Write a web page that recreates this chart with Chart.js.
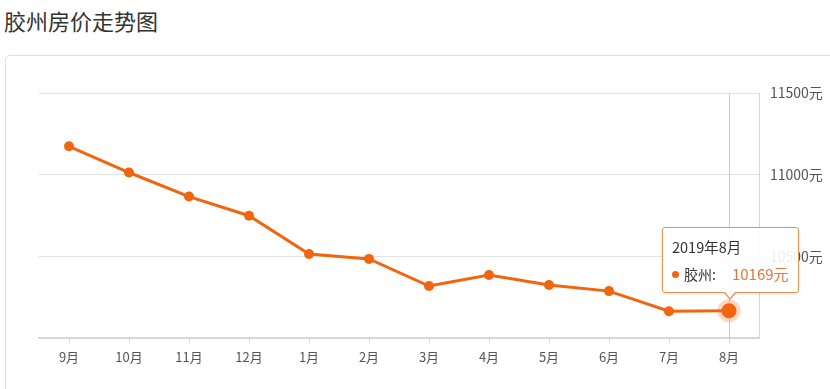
<!DOCTYPE html>
<html>
<head>
<meta charset="utf-8">
<script src="https://cdn.jsdelivr.net/npm/chart.js@4.4.1/dist/chart.umd.min.js"></script>
<style>
  html, body { margin: 0; padding: 0; background: #fff; }
  body { width: 830px; height: 389px; position: relative; overflow: hidden;
         font-family: "Noto Sans CJK SC", "Noto Sans", sans-serif; }
  #title { position: absolute; left: 4px; top: 4px; font-size: 22px; color: #333; line-height: 32px; }
  #card { position: absolute; left: 5px; top: 55px; width: 840px; height: 360px;
          border: 1px solid #ddd; border-radius: 5px; }
  #wrap { position: absolute; left: 0; top: 0; width: 830px; height: 389px; }
  #tip { position: absolute; background: rgba(255,255,255,0.9); border: 1px solid #e3924f; border-radius: 3px;
         box-shadow: 0 1px 3px rgba(0,0,0,0.12); font-size: 14px; color: #333;
         width: 135px; height: 64px; display: none; }
  #tip .t { position: absolute; left: 9px; top: 9px; font-size: 14.5px; line-height: 20px; }
  #tip .b { position: absolute; left: 9px; top: 36px; white-space: nowrap; line-height: 20px; }
  #tip .dot { display: inline-block; width: 7px; height: 7px; border-radius: 50%;
              background: #f2650f; margin-right: 5px; vertical-align: 2px; }
  #tip .v { color: #e5763a; margin-left: 16px; font-size: 15px; }
  #tip .caret, #tip .caret2 { position: absolute; width: 0; height: 0;
         border-left: 7px solid transparent; border-right: 7px solid transparent; }
  #tip .caret { left: 60px; bottom: -8px; border-top: 8px solid #e3924f; }
  #tip .caret2 { left: 61px; bottom: -6px; border-left-width: 6px; border-right-width: 6px; border-top: 7px solid #fff; }
</style>
</head>
<body>
<div id="title">胶州房价走势图</div>
<div id="card"></div>
<div id="wrap"><canvas id="chart" width="830" height="389"></canvas></div>
<div id="tip"><div class="t"></div><div class="b"></div><div class="caret"></div><div class="caret2"></div></div>
<script>
const months = ['9月', '10月', '11月', '12月', '1月', '2月', '3月', '4月', '5月', '6月', '7月', '8月'];
const tipTitles = ['2018年9月', '2018年10月', '2018年11月', '2018年12月', '2019年1月', '2019年2月',
  '2019年3月', '2019年4月', '2019年5月', '2019年6月', '2019年7月', '2019年8月'];
const prices = [11174, 11014, 10867, 10750, 10516, 10486, 10320, 10387, 10326, 10289, 10166, 10169];
const seriesName = '胶州';
const yTicks = [10000, 10500, 11000, 11500];

const orange = '#f2650f';

// vertical line under the hovered point
const crosshair = {
  id: 'crosshair',
  beforeDatasetsDraw(chart) {
    const act = chart.getActiveElements();
    if (!act.length) return;
    const x = act[0].element.x;
    const { top, bottom } = chart.chartArea;
    const ctx = chart.ctx;
    ctx.save();
    ctx.strokeStyle = '#d0d0d0';
    ctx.lineWidth = 1;
    ctx.beginPath();
    ctx.moveTo(Math.round(x) + 0.5, top);
    ctx.lineTo(Math.round(x) + 0.5, bottom);
    ctx.stroke();
    ctx.restore();
  }
};

function externalTip(context) {
  const tip = document.getElementById('tip');
  const t = context.tooltip;
  if (t.opacity === 0) { tip.style.display = 'none'; return; }
  const i = t.dataPoints[0].dataIndex;
  tip.querySelector('.t').textContent = tipTitles[i];
  tip.querySelector('.b').innerHTML = '<span class="dot"></span>' + seriesName + ':' +
    '<span class="v">' + prices[i] + '元</span>';
  tip.style.display = 'block';
  tip.style.left = (t.caretX - 67) + 'px';
  tip.style.top = (t.caretY - 84) + 'px';
}

const chart = new Chart(document.getElementById('chart').getContext('2d'), {
  type: 'line',
  data: {
    labels: months,
    datasets: [{
      label: seriesName,
      data: prices,
      borderColor: orange,
      backgroundColor: orange,
      borderWidth: 3,
      tension: 0,
      pointRadius: 5,
      pointBackgroundColor: orange,
      pointBorderWidth: 0,
      pointHoverRadius: 7.5,
      pointHoverBackgroundColor: orange,
      pointHoverBorderColor: 'rgba(242,101,15,0.25)',
      pointHoverBorderWidth: 8,
    }],
  },
  options: {
    responsive: false,
    animation: false,
    events: [],
    layout: { padding: { left: 39, top: 93, right: 0, bottom: 18 } },
    plugins: {
      legend: { display: false },
      tooltip: { enabled: false, external: externalTip },
    },
    scales: {
      x: {
        offset: true,
        grid: { display: true, drawOnChartArea: false, drawTicks: true, tickLength: 5, color: '#d6d6d6', offset: false },
        border: { display: true, color: '#d6d6d6', width: 2 },
        ticks: { color: '#555', font: { size: 13, family: '"Noto Sans CJK SC"' }, padding: 6 },
      },
      y: {
        position: 'right',
        min: 10000,
        max: 11500,
        afterBuildTicks: (axis) => { axis.ticks = yTicks.map(v => ({ value: v })); },
        afterFit: (axis) => { axis.width = 71; },
        grid: { color: '#e2e2e2', drawTicks: false },
        border: { display: true, color: '#d6d6d6' },
        ticks: {
          color: '#555',
          padding: 11,
          font: { size: 14, family: '"Noto Sans CJK SC"' },
          callback: (v) => (v === 10000 ? '' : v + '元'),
        },
      },
    },
  },
  plugins: [crosshair],
});

const active = [{ datasetIndex: 0, index: prices.length - 1 }];
chart.setActiveElements(active);
chart.tooltip.setActiveElements(active, { x: 0, y: 0 });
chart.update();
</script>
</body>
</html>
